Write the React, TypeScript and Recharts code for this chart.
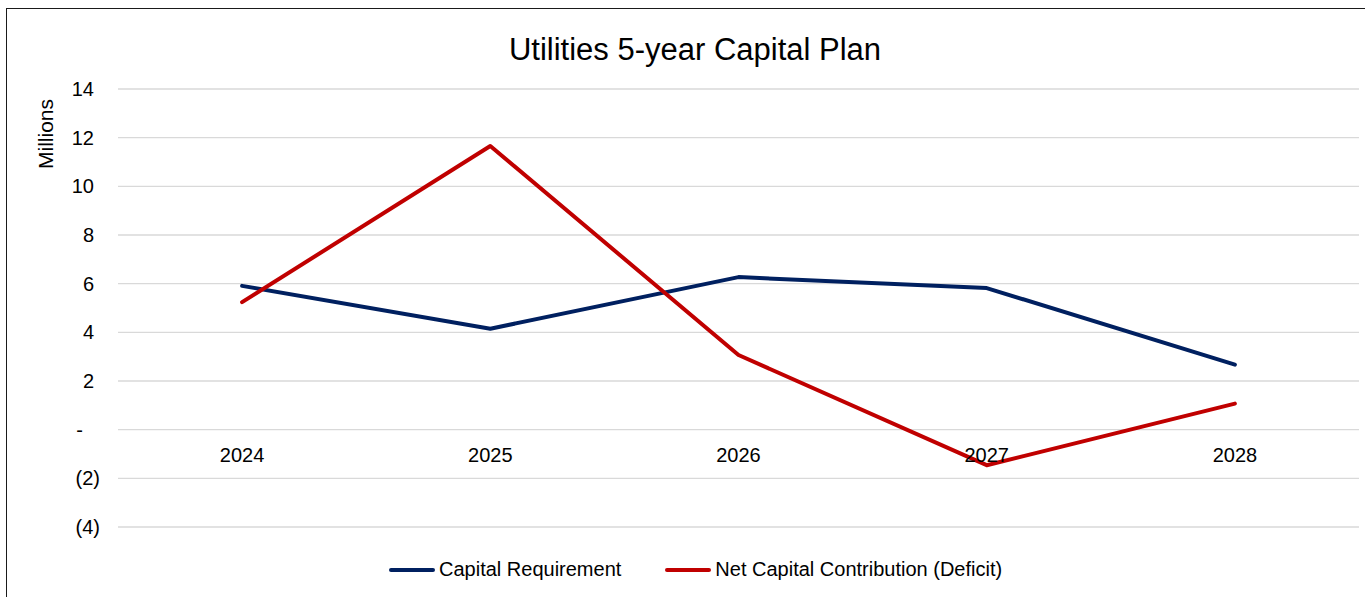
import { LineChart, Line, XAxis, YAxis, CartesianGrid } from "recharts";

const years = ["2024", "2025", "2026", "2027", "2028"];
const capitalRequirement = [5.91, 4.15, 6.27, 5.82, 2.67];
const netContribution = [5.24, 11.66, 3.07, -1.46, 1.07];
const yTicks = [-4, -2, 0, 2, 4, 6, 8, 10, 12, 14];

const series = [
  { key: "capital", name: "Capital Requirement", color: "#002060" },
  { key: "net", name: "Net Capital Contribution (Deficit)", color: "#C00000" },
];

const FONT = "'Liberation Sans', Arial, sans-serif";
const W = 1370;
const H = 600;
const M = { top: 80, right: 18, left: 0, bottom: 52 };
const Y_MIN = -4;
const Y_MAX = 14;
const X_AXIS_H = 30;
const plotH = H - M.top - M.bottom - X_AXIS_H;
// y of the zero line, where Excel puts the category labels
const zeroY = M.top + (plotH * Y_MAX) / (Y_MAX - Y_MIN);

const rows = years.map((year, i) => ({
  year,
  capital: capitalRequirement[i],
  net: netContribution[i],
}));

// accounting style: (2) for negatives, "-" for zero
function fmtY(v: number) {
  if (v === 0) return "-";
  return v < 0 ? `(${-v})` : `${v}`;
}

function YTick({ x, y, payload }: any) {
  const v = payload.value as number;
  const dx = v < 0 ? 6 : v === 0 ? -11 : 0;
  return (
    <text x={x + dx} y={y} textAnchor="end" dominantBaseline="central" fontSize={20} fill="#000" fontFamily={FONT}>
      {fmtY(v)}
    </text>
  );
}

function XTick({ x, payload }: any) {
  return (
    <text x={x} y={zeroY + 25} textAnchor="middle" dominantBaseline="central" fontSize={20} fill="#000" fontFamily={FONT}>
      {payload.value}
    </text>
  );
}

export default function App() {
  return (
    <div
      style={{
        position: "fixed",
        left: 6,
        top: 8,
        width: W,
        height: H,
        border: "1px solid #1a1a1a",
        background: "#fff",
        fontFamily: FONT,
      }}
    >
      <div
        style={{
          position: "absolute",
          left: 688,
          top: 23,
          transform: "translateX(-50%)",
          fontSize: 31,
          whiteSpace: "nowrap",
          color: "#000",
        }}
      >
        Utilities 5-year Capital Plan
      </div>
      <div
        style={{
          position: "absolute",
          left: 39,
          top: 125,
          transform: "translate(-50%, -50%) rotate(-90deg)",
          fontSize: 21,
          whiteSpace: "nowrap",
          color: "#000",
        }}
      >
        Millions
      </div>
      <div style={{ position: "absolute", left: 0, top: 0 }}>
        <LineChart width={W} height={H} data={rows} margin={M}>
          <CartesianGrid horizontal vertical={false} stroke="#d9d9d9" strokeWidth={1.3} />
          <XAxis
            dataKey="year"
            scale="band"
            axisLine={false}
            tickLine={false}
            height={X_AXIS_H}
            tick={<XTick />}
            interval={0}
          />
          <YAxis
            domain={[Y_MIN, Y_MAX]}
            ticks={yTicks}
            width={111}
            axisLine={false}
            tickLine={false}
            tickSize={0}
            tickMargin={24}
            tick={<YTick />}
            interval={0}
          />
          {series.map((s) => (
            <Line
              key={s.key}
              type="linear"
              dataKey={s.key}
              name={s.name}
              stroke={s.color}
              strokeWidth={4}
              strokeLinecap="round"
              strokeLinejoin="round"
              dot={false}
              activeDot={false}
              isAnimationActive={false}
            />
          ))}
        </LineChart>
      </div>
      <div
        style={{
          position: "absolute",
          left: 382,
          top: 549,
          display: "flex",
          alignItems: "center",
          fontSize: 20,
          color: "#000",
          whiteSpace: "nowrap",
        }}
      >
        {series.map((s, i) => (
          <div key={s.key} style={{ display: "flex", alignItems: "center", marginLeft: i === 0 ? 0 : 44 }}>
            <span
              style={{
                display: "inline-block",
                width: 46,
                height: 4,
                borderRadius: 2,
                background: s.color,
                marginRight: 4,
              }}
            />
            <span>{s.name}</span>
          </div>
        ))}
      </div>
    </div>
  );
}
